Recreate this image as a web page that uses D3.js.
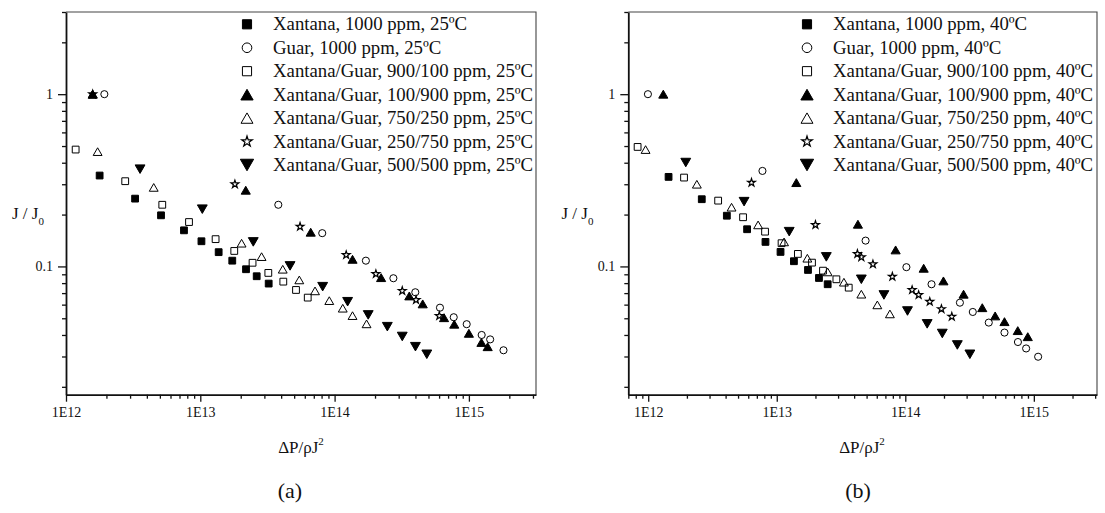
<!DOCTYPE html>
<html>
<head>
<meta charset="utf-8">
<script src="https://cdn.jsdelivr.net/npm/d3@7"></script>
<style>
  body { margin: 0; background: #fff; }
  svg text { font-family: "Liberation Serif", "Times New Roman", serif; fill: #111; }
</style>
</head>
<body>
<svg id="chart" width="1105" height="513"></svg>
<script>
// ---- data: [ΔP/ρJ², J/J0] ----
const namesA = [
  'Xantana, 1000 ppm, 25ºC', 'Guar, 1000 ppm, 25ºC',
  'Xantana/Guar, 900/100 ppm, 25ºC', 'Xantana/Guar, 100/900 ppm, 25ºC',
  'Xantana/Guar, 750/250 ppm, 25ºC', 'Xantana/Guar, 250/750 ppm, 25ºC',
  'Xantana/Guar, 500/500 ppm, 25ºC'
]
const namesB = [
  'Xantana, 1000 ppm, 40ºC', 'Guar, 1000 ppm, 40ºC',
  'Xantana/Guar, 900/100 ppm, 40ºC', 'Xantana/Guar, 100/900 ppm, 40ºC',
  'Xantana/Guar, 750/250 ppm, 40ºC', 'Xantana/Guar, 250/750 ppm, 40ºC',
  'Xantana/Guar, 500/500 ppm, 40ºC'
]
const markers = ['square', 'circle', 'squareOpen', 'triangle', 'triangleOpen', 'star', 'triangleDown']

const xan25 = [[1.78e12, 0.337], [3.27e12, 0.2475], [5.10e12, 0.198], [7.56e12, 0.162], [1.02e13, 0.140],
  [1.37e13, 0.121], [1.73e13, 0.108], [2.19e13, 0.0963], [2.63e13, 0.0877], [3.23e13, 0.0795]]
const guar25 = [[1.93e12, 1.0], [3.81e13, 0.228], [8.09e13, 0.156], [1.71e14, 0.108], [2.74e14, 0.0854],
  [3.99e14, 0.0708], [6.09e14, 0.0576], [7.71e14, 0.0507], [9.63e14, 0.0462], [1.245e15, 0.0400],
  [1.44e15, 0.0377], [1.81e15, 0.0326]]
const xg900_25 = [[1.18e12, 0.477], [2.76e12, 0.3125], [5.21e12, 0.228], [8.24e12, 0.181], [1.30e13, 0.144],
  [1.79e13, 0.123], [2.45e13, 0.105], [3.21e13, 0.0917], [4.15e13, 0.0816], [5.16e13, 0.0730], [6.31e13, 0.0659]]
const xg100_25 = [[1.58e12, 1.0], [2.18e13, 0.277], [6.64e13, 0.158], [1.36e14, 0.110], [2.22e14, 0.0861],
  [3.60e14, 0.0674], [4.53e14, 0.0606], [6.53e14, 0.0504], [7.78e14, 0.0462], [1.00e15, 0.0409],
  [1.24e15, 0.0362], [1.38e15, 0.0342]]
const xg750_25 = [[1.58e12, 1.0], [1.72e12, 0.464], [4.50e12, 0.2876], [2.03e13, 0.1364], [2.86e13, 0.114],
  [4.11e13, 0.0963], [5.46e13, 0.0835], [7.15e13, 0.0721], [9.13e13, 0.0633], [1.15e14, 0.0572],
  [1.36e14, 0.0518], [1.73e14, 0.0464]]
const xg250_25 = [[1.58e12, 1.0], [1.81e13, 0.300], [5.53e13, 0.1703], [1.22e14, 0.1166], [2.03e14, 0.0904],
  [3.19e14, 0.0721], [4.04e14, 0.0639], [6.02e14, 0.0516]]
const xg500_25 = [[3.56e12, 0.367], [1.035e13, 0.215], [2.48e13, 0.1388], [4.66e13, 0.1007], [8.15e13, 0.0763],
  [1.25e14, 0.0624], [1.78e14, 0.0523], [2.47e14, 0.0447], [3.19e14, 0.0392], [4.00e14, 0.0342], [4.86e14, 0.0309]]

const xan40 = [[1.44e12, 0.331], [2.61e12, 0.2456], [4.09e12, 0.197], [5.88e12, 0.1644], [8.17e12, 0.1388],
  [1.07e13, 0.1214], [1.36e13, 0.1072], [1.75e13, 0.0954], [2.13e13, 0.0857], [2.49e13, 0.0788]]
const guar40 = [[9.95e11, 1.0], [7.74e12, 0.3585], [4.91e13, 0.1412], [1.02e14, 0.0990], [1.60e14, 0.0788],
  [2.66e14, 0.0616], [3.35e14, 0.0544], [4.46e14, 0.0472], [5.91e14, 0.0413], [7.52e14, 0.0364],
  [8.71e14, 0.0334], [1.08e15, 0.0299]]
const xg900_40 = [[8.27e11, 0.494], [1.90e12, 0.328], [3.50e12, 0.241], [5.47e12, 0.193], [8.11e12, 0.1592],
  [1.09e13, 0.1364], [1.46e13, 0.1182], [1.88e13, 0.1052], [2.29e13, 0.0945], [2.91e13, 0.0842], [3.63e13, 0.0753]]
const xg100_40 = [[1.31e12, 1.0], [1.42e13, 0.3067], [4.28e13, 0.1758], [8.41e13, 0.1247], [1.39e14, 0.0976],
  [1.98e14, 0.0824], [2.84e14, 0.0690], [3.97e14, 0.0576], [5.00e14, 0.0516], [5.91e14, 0.0478],
  [7.50e14, 0.0424], [8.97e14, 0.0391]]
const xg750_40 = [[9.54e11, 0.477], [2.39e12, 0.300], [4.45e12, 0.2207], [7.16e12, 0.1742], [1.14e13, 0.1388],
  [1.73e13, 0.1116], [2.49e13, 0.0929], [3.33e13, 0.0810], [4.55e13, 0.0690], [6.06e13, 0.0598], [7.59e13, 0.0530]]
const xg250_40 = [[6.36e12, 0.3067], [2.00e13, 0.1742], [4.24e13, 0.1182], [4.55e13, 0.1131], [5.60e13, 0.1030],
  [7.93e13, 0.0873], [1.13e14, 0.0730], [1.27e14, 0.0683], [1.55e14, 0.0624], [1.91e14, 0.0566], [2.30e14, 0.0511]]
const xg500_40 = [[1.96e12, 0.401], [5.57e12, 0.2378], [1.25e13, 0.1592], [2.43e13, 0.1136], [4.55e13, 0.0842],
  [6.82e13, 0.0683], [1.04e14, 0.0551], [1.48e14, 0.0464], [1.94e14, 0.0408], [2.54e14, 0.0350], [3.18e14, 0.0309]]

const xMajor = [1e12, 1e13, 1e14, 1e15]
const xTickLabels = ['1E12', '1E13', '1E14', '1E15']
const yMajor = [0.1, 1]
const yTickLabels = ['0.1', '1']
const yDomain = [0.018, 3]

// ---- layout ----
const plotTop = 12, plotBottom = 394.7
const panels = [
  { left: 66, right: 536, xDomain: [1e12, 3.16e15], names: namesA,
    series: [xan25, guar25, xg900_25, xg100_25, xg750_25, xg250_25, xg500_25],
    legendX: 247, yTitleX: 12, xTitleX: 301, tag: '(a)', tagX: 290 },
  { left: 628.3, right: 1097, xDomain: [7e11, 3.1e15], names: namesB,
    series: [xan40, guar40, xg900_40, xg100_40, xg750_40, xg250_40, xg500_40],
    legendX: 807, yTitleX: 561.5, xTitleX: 862, tag: '(b)', tagX: 858 }
]

const svg = d3.select('#chart')

const minorTicks = domain => {
  const out = []
  for (let e = -3; e <= 16; e++)
    for (let m = 2; m < 10; m++) {
      const v = m * Math.pow(10, e)
      if (v >= domain[0] * 0.999 && v <= domain[1] * 1.001) out.push(v)
    }
  return out
}

// symbol path generator; big = legend size
const symbolFor = (kind, big) => {
  const k = big ? 1.35 : 1
  switch (kind) {
    case 'square':
    case 'squareOpen': return { type: d3.symbolSquare, size: 46 * k * k }
    case 'circle': return { type: d3.symbolCircle, size: 40 * k * k }
    case 'triangle': return { type: d3.symbolTriangle, size: 36 * k * k }
    case 'triangleOpen': return { type: d3.symbolTriangle, size: 34 * k * k }
    case 'triangleDown': return { type: d3.symbolTriangle, size: 42 * k * k }
    case 'star': return { type: d3.symbolStar, size: 19 * k * k }
  }
}
const isFilled = kind => kind === 'square' || kind === 'triangle' || kind === 'triangleDown'

const drawMark = (g, kind, cx, cy, big) => {
  const s = symbolFor(kind, big)
  const rot = kind === 'triangleDown' ? ' rotate(180)' : ''
  // center triangles on their box rather than centroid
  let dy = 0
  if (kind.startsWith('triangle')) {
    const r = Math.sqrt(s.size / (Math.sqrt(3) * 3))
    dy = kind === 'triangleDown' ? -r / 2 : r / 2
  }
  g.append('path')
    .attr('d', d3.symbol(s.type, s.size)())
    .attr('transform', `translate(${cx},${cy + dy})${rot}`)
    .attr('fill', isFilled(kind) ? '#000' : 'none')
    .attr('stroke', '#000')
    .attr('stroke-width', kind === 'star' ? 1.2 : 1)
}

panels.forEach(p => {
  const x = d3.scaleLog().domain(p.xDomain).range([p.left, p.right])
  const y = d3.scaleLog().domain(yDomain).range([plotBottom, plotTop])
  const g = svg.append('g')

  // top / right frame
  g.append('path')
    .attr('d', `M${p.left},${plotTop}H${p.right}V${plotBottom}`)
    .attr('fill', 'none').attr('stroke', '#444').attr('stroke-width', 1.1)

  const styleAxis = a => {
    a.attr('font-size', null).attr('font-family', null)
    a.selectAll('.tick line').attr('stroke', '#111').attr('stroke-width', 1.3)
    a.selectAll('.domain').attr('stroke', '#111').attr('stroke-width', 1.8)
    a.selectAll('text').style('font-size', '14px')
  }

  // x axis: minor then major
  g.append('g').attr('transform', `translate(0,${plotBottom})`)
    .call(d3.axisBottom(x).tickValues(minorTicks(p.xDomain)).tickSize(4).tickFormat(''))
    .call(a => a.select('.domain').remove())
    .call(styleAxis)
  g.append('g').attr('transform', `translate(0,${plotBottom})`)
    .call(d3.axisBottom(x).tickValues(xMajor).tickSize(7).tickSizeOuter(0).tickPadding(5)
      .tickFormat((d, i) => xTickLabels[i]))
    .call(styleAxis)

  // y axis: minor then major
  g.append('g').attr('transform', `translate(${p.left},0)`)
    .call(d3.axisLeft(y).tickValues(minorTicks(yDomain)).tickSize(4).tickFormat(''))
    .call(a => a.select('.domain').remove())
    .call(styleAxis)
  g.append('g').attr('transform', `translate(${p.left},0)`)
    .call(d3.axisLeft(y).tickValues(yMajor).tickSize(8).tickSizeOuter(0).tickPadding(5)
      .tickFormat((d, i) => yTickLabels[i]))
    .call(styleAxis)

  // data
  p.series.forEach((data, si) => {
    const sg = g.append('g')
    data.forEach(d => drawMark(sg, markers[si], x(d[0]), y(d[1]), false))
  })

  // legend
  const lg = g.append('g')
  p.names.forEach((name, i) => {
    const cy = 24.3 + i * 23.45
    drawMark(lg, markers[i], p.legendX, cy, true)
    lg.append('text').attr('x', p.legendX + 26).attr('y', cy + 6)
      .style('font-size', '18.8px').text(name)
  })

  // axis titles
  const yt = g.append('text').attr('x', p.yTitleX).attr('y', 219).style('font-size', '17px')
  yt.append('tspan').text('J / J')
  yt.append('tspan').attr('dy', 6).style('font-size', '11px').text('0')

  const xt = g.append('text').attr('x', p.xTitleX).attr('y', 453)
    .attr('text-anchor', 'middle').style('font-size', '17px')
  xt.append('tspan').text('ΔP/ρJ')
  xt.append('tspan').attr('dy', -8).style('font-size', '11px').text('2')

  g.append('text').attr('x', p.tagX).attr('y', 498).attr('text-anchor', 'middle')
    .style('font-size', '22px').text(p.tag)
})
</script>
</body>
</html>
